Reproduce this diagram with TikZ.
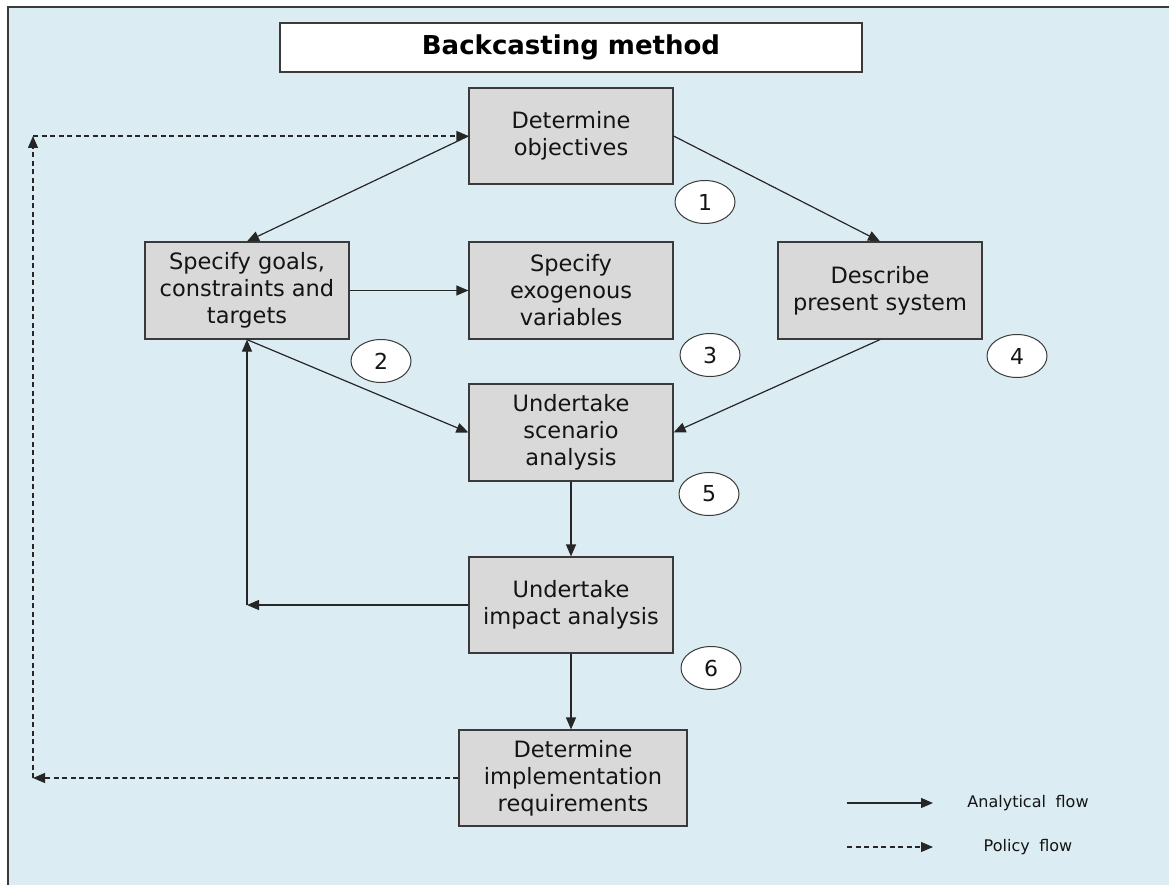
\documentclass[tikz,border=0pt]{standalone}
\usepackage{fontspec}
\setmainfont{DejaVu Sans}
\usetikzlibrary{arrows.meta,shapes.geometric}
\definecolor{panel}{HTML}{DBEDF3}
\definecolor{boxfill}{HTML}{D9D9D9}
\definecolor{edge}{HTML}{3A3A3A}
\definecolor{ink}{HTML}{141414}
\tikzset{
  stepbox/.style={draw=edge, line width=1.2pt, fill=boxfill, text=ink,
    minimum width=204pt, minimum height=96pt, inner sep=0pt, align=center,
    font=\fontsize{22.5}{27}\selectfont},
  numtag/.style={ellipse, draw=edge, line width=1pt, fill=white, text=ink,
    minimum width=60pt, minimum height=43pt, inner sep=0pt,
    font=\fontsize{22}{25}\selectfont},
  flow/.style={draw=black!85, line width=1.2pt, -{Triangle[length=12pt,width=10pt]}},
  policy/.style={flow, dash pattern=on 5pt off 3.5pt},
  legendtext/.style={text=ink, font=\fontsize{16}{20}\selectfont}
}
\begin{document}
\begin{tikzpicture}[x=1pt,y=-1pt]
  % canvas and panel
  \useasboundingbox (0,0) rectangle (1169,885);
  \fill[white] (0,0) rectangle (1169,885);
  \fill[panel] (8,7) rectangle (1169,885);
  \draw[edge, line width=2pt] (8,885) -- (8,7) -- (1169,7);

  % title
  \node[draw=edge, line width=1.2pt, fill=white, minimum width=582pt, minimum height=49pt,
        inner sep=0pt, text=black, font=\bfseries\fontsize{26}{30}\selectfont]
        (title) at (571,47.5) {Backcasting method};

  % steps
  \node[stepbox] (b1) at (571,136) {Determine\\objectives};
  \node[stepbox, minimum height=97pt] (b2) at (247,290.5) {Specify goals,\\constraints and\\targets};
  \node[stepbox, minimum height=97pt] (b3) at (571,290.5) {Specify\\exogenous\\variables};
  \node[stepbox, minimum height=97pt] (b4) at (880,290.5) {Describe\\present system};
  \node[stepbox, minimum height=97pt] (b5) at (571,432.5) {Undertake\\scenario\\analysis};
  \node[stepbox] (b6) at (571,605) {Undertake\\impact analysis};
  \node[stepbox, minimum width=228pt] (b7) at (573,778) {Determine\\implementation\\requirements};

  % step numbers
  \node[numtag] (n1) at (705,202) {1};
  \node[numtag] (n2) at (381,361) {2};
  \node[numtag] (n3) at (710,355) {3};
  \node[numtag] (n4) at (1017,356) {4};
  \node[numtag] (n5) at (709,494) {5};
  \node[numtag] (n6) at (711,668) {6};

  % analytical flow
  \draw[flow] (b1.west) -- (b2.north);
  \draw[flow] (b1.east) -- (b4.north);
  \draw[flow] (b2.east) -- (b3.west);
  \draw[flow] (b2.south) -- (b5.west);
  \draw[flow] (b4.south) -- (b5.east);
  \draw[flow] (b5.south) -- (b6.north);
  \draw[flow] (b6.south) -- (b6.south |- b7.north);
  \coordinate (back) at (b2.south |- b6.west);
  \draw[flow] (b6.west) -- (back);
  \draw[flow] (back) -- (b2.south);

  % policy flow
  \coordinate (pl) at (33,778);
  \coordinate (pt) at (33,136);
  \draw[policy] (b7.west) -- (pl);
  \draw[policy] (pl) -- (pt);
  \draw[policy] (pt) -- (b1.west);

  % legend
  \coordinate (la) at (847,803);
  \coordinate (lb) at (933,803);
  \coordinate (lc) at (847,847);
  \coordinate (ld) at (933,847);
  \draw[flow] (la) -- (lb);
  \draw[policy] (lc) -- (ld);
  \node[legendtext] (lt1) at (1028,803) {Analytical\hspace{0.6em}flow};
  \node[legendtext] (lt2) at (1028,847) {Policy\hspace{0.6em}flow};
\end{tikzpicture}
\end{document}
